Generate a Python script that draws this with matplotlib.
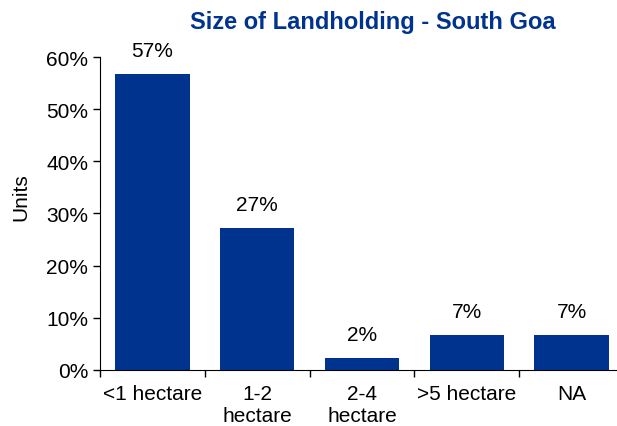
import numpy as np
import matplotlib
matplotlib.use("Agg")
import matplotlib.pyplot as plt
from matplotlib.ticker import PercentFormatter, FixedLocator

categories = ["<1 hectare", "1-2\nhectare", "2-4\nhectare", ">5 hectare", "NA"]
shares = [56.8, 27.2, 2.2, 6.7, 6.7]
labels = ["57%", "27%", "2%", "7%", "7%"]

plt.rcParams["font.family"] = ["Liberation Sans", "DejaVu Sans"]
navy = "#00338D"

fig = plt.figure(figsize=(6.17, 4.27), dpi=100)
ax = fig.add_axes([100 / 617, 1 - 370.7 / 427, 524 / 617, 312.5 / 427])

x = np.arange(len(categories))
bars = ax.bar(x, shares, width=0.71, color=navy)
for b, lab in zip(bars, labels):
    ax.annotate(lab, (b.get_x() + b.get_width() / 2, b.get_height()),
                xytext=(0, 10), textcoords="offset points",
                ha="center", va="bottom", fontsize=15)

ax.set_xlim(-0.5, len(categories) - 0.5)
ax.set_ylim(0, 60)
ax.set_yticks(np.arange(0, 61, 10))
ax.yaxis.set_major_formatter(PercentFormatter(decimals=0))
ax.set_xticks(x)
ax.set_xticklabels(categories, fontsize=15, linespacing=1.25)
ax.xaxis.set_minor_locator(FixedLocator(np.arange(-0.5, len(categories), 1)))
ax.tick_params(axis="x", which="major", length=0, pad=10)
ax.tick_params(axis="x", which="minor", length=5, width=1)
ax.tick_params(axis="y", labelsize=15, length=5, width=1)
for s in ["top", "right"]:
    ax.spines[s].set_visible(False)
ax.set_ylabel("Units", fontsize=15)
ax.yaxis.set_label_coords(-70 / 524, 0.557)

fig.text(373 / 617, 1 - 23 / 427, "Size of Landholding - South Goa",
         ha="center", va="center", fontsize=17, fontweight="bold", color=navy)

fig.savefig("out.png", dpi=100)
